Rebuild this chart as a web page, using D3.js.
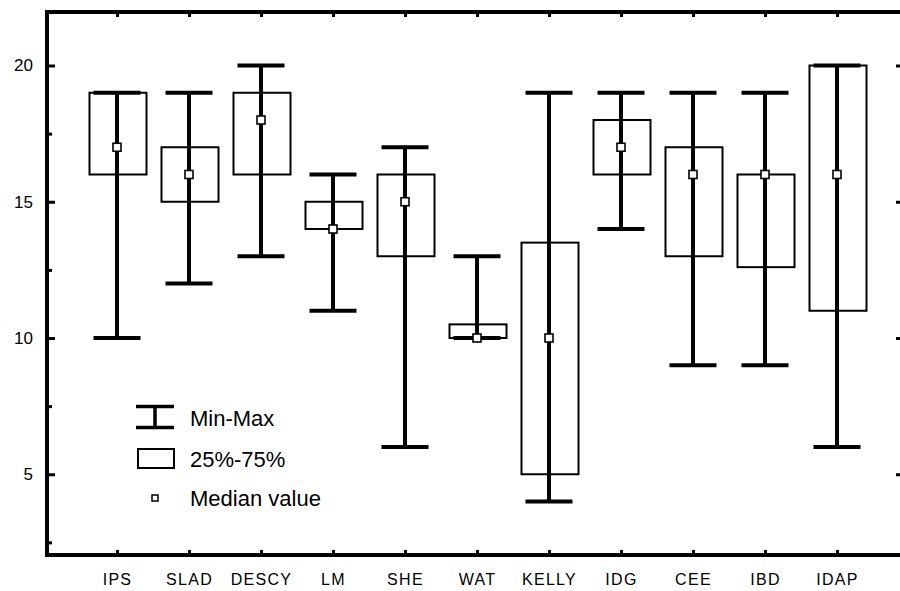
<!DOCTYPE html>
<html>
<head>
<meta charset="utf-8">
<script src="https://cdn.jsdelivr.net/npm/d3@7"></script>
<style>
  html, body { margin: 0; padding: 0; background: #fff; overflow: hidden; }
  svg { display: block; font-family: "Liberation Sans", Arial, sans-serif; }
</style>
</head>
<body>
<svg id="chart"></svg>
<script>
// values
const categories = ['IPS', 'SLAD', 'DESCY', 'LM', 'SHE', 'WAT', 'KELLY', 'IDG', 'CEE', 'IBD', 'IDAP'];
const minValues = [10, 12, 13, 11, 6, 10, 4, 14, 9, 9, 6];
const maxValues = [19, 19, 20, 16, 17, 13, 19, 19, 19, 19, 20];
const q25Values = [16, 15, 16, 14, 13, 10, 5, 16, 13, 12.6, 11];
const q75Values = [19, 17, 19, 15, 16, 10.5, 13.5, 18, 17, 16, 20];
const medianValues = [17, 16, 18, 14, 15, 10, 10, 17, 16, 16, 16];
const yTickLabels = [5, 10, 15, 20];
const yMinorTicks = [2.5, 7.5, 12.5, 17.5];

const width = 900, height = 591;
const frameLeft = 47, frameRight = 903, frameTop = 12, frameBottom = 555;

const svg = d3.select('#chart')
    .attr('width', width)
    .attr('height', height);

const data = categories.map((c, i) => ({
    name: c,
    min: minValues[i],
    max: maxValues[i],
    q25: q25Values[i],
    q75: q75Values[i],
    median: medianValues[i]
}));

const x = d3.scalePoint()
    .domain(categories)
    .range([45, 909])
    .padding(1);

const y = d3.scaleLinear()
    .domain([2, 22])
    .range([556, 11]);

const boxW = 57, capW = 47;

// boxes 25%-75%
svg.append('g')
    .selectAll('rect')
    .data(data)
    .join('rect')
    .attr('x', d => x(d.name) - boxW / 2 + 1)
    .attr('y', d => y(d.q75))
    .attr('width', boxW)
    .attr('height', d => y(d.q25) - y(d.q75))
    .attr('fill', 'none')
    .attr('stroke', '#000')
    .attr('stroke-width', 2);

// whiskers
const wg = svg.append('g').attr('stroke', '#000').attr('stroke-width', 4);
wg.selectAll('.stem')
    .data(data)
    .join('line')
    .attr('class', 'stem')
    .attr('x1', d => x(d.name))
    .attr('x2', d => x(d.name))
    .attr('y1', d => y(d.min))
    .attr('y2', d => y(d.max));
wg.selectAll('.capmax')
    .data(data)
    .join('line')
    .attr('class', 'capmax')
    .attr('x1', d => x(d.name) - capW / 2)
    .attr('x2', d => x(d.name) + capW / 2)
    .attr('y1', d => y(d.max))
    .attr('y2', d => y(d.max));
wg.selectAll('.capmin')
    .data(data)
    .join('line')
    .attr('class', 'capmin')
    .attr('x1', d => x(d.name) - capW / 2)
    .attr('x2', d => x(d.name) + capW / 2)
    .attr('y1', d => y(d.min))
    .attr('y2', d => y(d.min));

// medians
svg.append('g')
    .selectAll('rect')
    .data(data)
    .join('rect')
    .attr('x', d => x(d.name) - 4)
    .attr('y', d => y(d.median) - 4)
    .attr('width', 8)
    .attr('height', 8)
    .attr('fill', '#fff')
    .attr('stroke', '#000')
    .attr('stroke-width', 1.6);

// frame
svg.append('rect')
    .attr('x', frameLeft)
    .attr('y', frameTop)
    .attr('width', frameRight - frameLeft)
    .attr('height', frameBottom - frameTop)
    .attr('fill', 'none')
    .attr('stroke', '#000')
    .attr('stroke-width', 4);

const styleAxis = g => {
    g.select('.domain').remove();
    g.selectAll('.tick line').attr('stroke', '#000').attr('stroke-width', 3);
    g.selectAll('.tick text').attr('fill', '#000');
};

// left axis
svg.append('g')
    .attr('transform', `translate(${frameLeft},0)`)
    .call(d3.axisLeft(y).tickValues(yTickLabels).tickSize(-8).tickPadding(14))
    .call(styleAxis)
    .selectAll('.tick text')
    .style('font-size', '17px');

svg.append('g')
    .attr('transform', `translate(${frameLeft},0)`)
    .call(d3.axisLeft(y).tickValues(yMinorTicks).tickSize(-5).tickFormat(''))
    .call(styleAxis);

// right axis
svg.append('g')
    .attr('transform', `translate(${frameRight},0)`)
    .call(d3.axisRight(y).tickValues(yTickLabels).tickSize(-7).tickFormat(''))
    .call(styleAxis);

// bottom axis
svg.append('g')
    .attr('transform', `translate(0,${frameBottom})`)
    .call(d3.axisBottom(x).tickSize(-5))
    .call(styleAxis)
    .selectAll('.tick text')
    .attr('y', 30)
    .attr('dy', null)
    .style('font-size', '16px')
    .style('letter-spacing', '1.3px');

// top axis
svg.append('g')
    .attr('transform', `translate(0,${frameTop})`)
    .call(d3.axisTop(x).tickSize(-5).tickFormat(''))
    .call(styleAxis);

// legend
const lg = svg.append('g');
lg.append('path')
    .attr('d', 'M136,406.5H174M155,406.5V427.5M136,427.5H174')
    .attr('fill', 'none')
    .attr('stroke', '#000')
    .attr('stroke-width', 3.5);
lg.append('rect')
    .attr('x', 138).attr('y', 449)
    .attr('width', 36).attr('height', 19)
    .attr('fill', 'none')
    .attr('stroke', '#000')
    .attr('stroke-width', 2);
lg.append('rect')
    .attr('x', 152).attr('y', 495)
    .attr('width', 6).attr('height', 6)
    .attr('fill', '#fff')
    .attr('stroke', '#000')
    .attr('stroke-width', 1.5);

const legendLabels = ['Min-Max', '25%-75%', 'Median value'];
const legendY = [418, 459, 498];
lg.selectAll('text')
    .data(legendLabels)
    .join('text')
    .attr('x', 190)
    .attr('y', (d, i) => legendY[i])
    .attr('dy', '0.36em')
    .style('font-size', '22px')
    .text(d => d);
</script>
</body>
</html>
